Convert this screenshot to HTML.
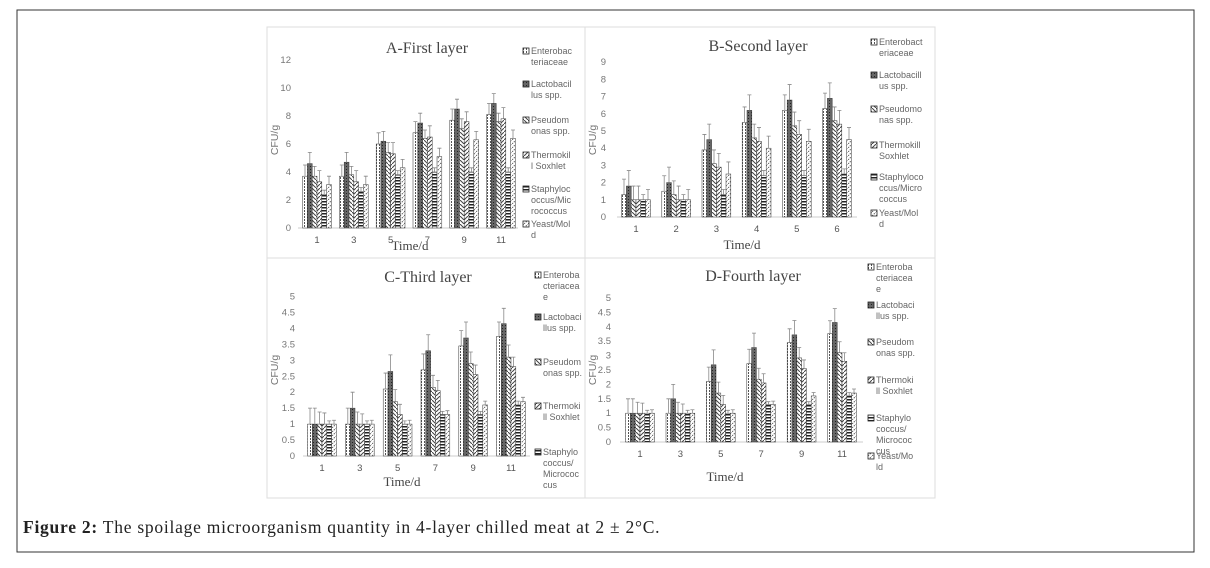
<!DOCTYPE html>
<html><head><meta charset="utf-8"><style>
body{margin:0;background:#fff;width:1210px;height:568px;overflow:hidden;font-family:"Liberation Sans",sans-serif}
svg{position:absolute;left:0;top:0}
</style></head><body>
<svg id="fig" width="1210" height="568" xmlns="http://www.w3.org/2000/svg">
<defs>
<pattern id="p0" width="3" height="3" patternUnits="userSpaceOnUse"><rect width="3" height="3" fill="#fff"/><rect x="1" width="1" height="2" fill="#555"/></pattern>
<pattern id="p1" width="3" height="3" patternUnits="userSpaceOnUse"><rect width="3" height="3" fill="#666"/><rect x="1" y="1" width="1" height="1" fill="#222"/></pattern>
<pattern id="p2" width="4" height="4" patternUnits="userSpaceOnUse"><rect width="4" height="4" fill="#fff"/><path d="M0,0L4,4" stroke="#444" stroke-width="1"/></pattern>
<pattern id="p3" width="4" height="4" patternUnits="userSpaceOnUse"><rect width="4" height="4" fill="#fff"/><path d="M4,0L0,4" stroke="#444" stroke-width="1"/></pattern>
<pattern id="p4" width="3" height="3" patternUnits="userSpaceOnUse"><rect width="3" height="3" fill="#fff"/><rect y="0" width="3" height="1.5" fill="#222"/></pattern>
<pattern id="p5" width="4" height="4" patternUnits="userSpaceOnUse"><rect width="4" height="4" fill="#fff"/><path d="M0,4L4,0" stroke="#666" stroke-width="1" stroke-dasharray="1.5 1"/></pattern>
</defs>
<rect x="17" y="10" width="1177" height="542" fill="none" stroke="#333" stroke-width="1"/>
<text x="23" y="533" font-family="'Liberation Serif',serif" font-size="17.5" letter-spacing="0.75" fill="#222"><tspan font-weight="bold">Figure 2:</tspan> The spoilage microorganism quantity in 4-layer chilled meat at 2 ± 2°C.</text>
</svg>
<script>
const catsA=["1","3","5","7","9","11"];
const catsB=["1","2","3","4","5","6"];
const catsC=["1","3","5","7","9","11"];
const catsD=["1","3","5","7","9","11"];
const valsA=[[3.7,4.6,3.7,3.3,2.4,3.1],[3.7,4.7,3.8,3.3,2.6,3.1],[6.0,6.2,5.4,5.3,3.8,4.3],[6.8,7.5,6.4,6.5,4.0,5.1],[7.7,8.5,7.1,7.6,4.0,6.3],[8.1,8.9,7.6,7.8,4.0,6.4]];
const errA=[[0.8,0.8,0.7,0.8,0.3,0.6],[0.8,0.7,0.6,0.8,0.3,0.6],[0.8,0.7,0.7,0.8,0.3,0.6],[0.8,0.7,0.6,0.8,0.3,0.6],[0.8,0.7,0.7,0.7,0.3,0.6],[0.8,0.7,0.6,0.8,0.3,0.6]];
const valsB=[[1.3,1.8,1.0,1.0,1.0,1.0],[1.5,2.0,1.3,1.0,1.0,1.0],[3.9,4.5,3.1,2.9,1.3,2.5],[5.5,6.2,4.6,4.4,2.4,4.0],[6.2,6.8,5.3,4.8,2.4,4.4],[6.3,6.9,5.6,5.4,2.5,4.5]];
const errB=[[0.9,0.9,0.8,0.8,0.3,0.6],[0.9,0.9,0.8,0.8,0.3,0.6],[0.9,0.9,0.8,0.8,0.3,0.7],[0.9,0.9,0.8,0.8,0.3,0.7],[0.9,0.9,0.8,0.8,0.3,0.7],[0.9,0.9,0.8,0.8,0.3,0.7]];
const valsC=[[1,1,1,1,1,1],[1,1.5,1,1,1,1],[2.1,2.65,1.7,1.3,1.0,1.0],[2.7,3.3,2.15,2.05,1.3,1.3],[3.45,3.7,2.9,2.55,1.3,1.6],[3.75,4.15,3.1,2.8,1.6,1.7]];
const valsD=[[1,1,1,1,1,1],[1,1.5,1,1,1,1],[2.1,2.68,1.7,1.3,1.0,1.0],[2.72,3.28,2.18,2.05,1.3,1.3],[3.45,3.72,2.92,2.55,1.3,1.6],[3.76,4.15,3.1,2.8,1.6,1.7]];
const errCD=[[0.5,0.5,0.38,0.35,0.1,0.12],[0.5,0.5,0.38,0.32,0.1,0.12],[0.5,0.52,0.38,0.32,0.1,0.12],[0.5,0.5,0.38,0.32,0.1,0.12],[0.48,0.5,0.36,0.3,0.1,0.12],[0.45,0.48,0.38,0.3,0.12,0.14]];
const ticksA=["0","2","4","6","8","10","12"];
const ticksB=["0","1","2","3","4","5","6","7","8","9"];
const ticksCD=["0","0.5","1","1.5","2","2.5","3","3.5","4","4.5","5"];
const legA=[["Enterobac","teriaceae"],["Lactobacil","lus spp."],["Pseudom","onas spp."],["Thermokil","l Soxhlet"],["Staphyloc","occus/Mic","rococcus"],["Yeast/Mol","d"]];
const legB=[["Enterobact","eriaceae"],["Lactobacill","us spp."],["Pseudomo","nas spp."],["Thermokill","Soxhlet"],["Staphyloco","ccus/Micro","coccus"],["Yeast/Mol","d"]];
const legC=[["Enteroba","cteriacea","e"],["Lactobaci","llus spp."],["Pseudom","onas spp."],["Thermoki","ll Soxhlet"],["Staphylo","coccus/","Micrococ","cus"]];
const legD=[["Enteroba","cteriacea","e"],["Lactobaci","llus spp."],["Pseudom","onas spp."],["Thermoki","ll Soxhlet"],["Staphylo","coccus/","Micrococ","cus"],["Yeast/Mo","ld"]];

const NS="http://www.w3.org/2000/svg";
const svg=document.getElementById('fig');
function mk(tag,attrs,parent){const e=document.createElementNS(NS,tag);for(const k in attrs)e.setAttribute(k,attrs[k]);(parent||svg).appendChild(e);return e;}

const panels=[
 {id:'a',title:'A-First layer',cats:catsA,vals:valsA,err:errA,ticks:ticksA,tickStep:2,leg:legA,box:[267,27,318,231],y0:228,ppu:14,x1:317,dx:36.8,axL:298,axR:518,tx:427,ty:53,lx:523,ly:[54,87,123,158,192,227],timeY:250,timeX:410,cfuY:140,tickX:291},
 {id:'b',title:'B-Second layer',cats:catsB,vals:valsB,err:errB,ticks:ticksB,tickStep:1,leg:legB,box:[585,27,350,231],y0:217,ppu:17.2,x1:636,dx:40.2,axL:617,axR:857,tx:758,ty:51,lx:871,ly:[45,78,112,148,180,216],timeY:249,timeX:742,cfuY:140,tickX:606},
 {id:'c',title:'C-Third layer',cats:catsC,vals:valsC,err:errCD,ticks:ticksCD,tickStep:0.5,leg:legC,box:[267,258,318,240],y0:456,ppu:31.9,x1:322,dx:37.8,axL:303,axR:530,tx:428,ty:282,lx:535,ly:[278,320,365,409,455],timeY:486,timeX:402,cfuY:370,tickX:295},
 {id:'d',title:'D-Fourth layer',cats:catsD,vals:valsD,err:errCD,ticks:ticksCD,tickStep:0.5,leg:legD,box:[585,258,350,240],y0:442,ppu:28.8,x1:640,dx:40.4,axL:620,axR:863,tx:753,ty:281,lx:868,ly:[270,308,345,383,421,459],timeY:481,timeX:725,cfuY:370,tickX:611}
];
const bw=4.8;
panels.forEach(p=>{
 const g=mk('g',{});
 
 
 const box=mk('rect',{x:p.box[0],y:p.box[1],width:p.box[2],height:p.box[3],fill:'none',stroke:'#ddd','stroke-width':1},g);
 
 
 const yS=v=>p.y0-v*p.ppu;
 const xS=i=>p.x1+i*p.dx;
 const t=mk('text',{x:p.tx,y:p.ty,'text-anchor':'middle','font-family':"'Liberation Serif',serif",'font-size':16,fill:'#444'},g);
 t.textContent=p.title;
 
 
 p.ticks.forEach((tk,i)=>{
  const e=mk('text',{x:p.tickX,y:yS(i*p.tickStep)+3,'text-anchor':'end','font-size':9.5,fill:'#777'},g);
  e.textContent=tk;
  
  
 });
 const ax=mk('line',{x1:p.axL,x2:p.axR,y1:p.y0,y2:p.y0,stroke:'#ccc','stroke-width':1},g);
 
 
 p.cats.forEach((c,i)=>{
  const e=mk('text',{x:xS(i),y:p.y0+15,'text-anchor':'middle','font-size':9.5,fill:'#555'},g);
  e.textContent=c;
  
  
  p.vals[i].forEach((v,s)=>{
   const x=xS(i)-3*bw+s*bw;
   const r=mk('rect',{x:x,y:yS(v),width:bw,height:v*p.ppu,fill:'url(#p'+s+')',stroke:'#333','stroke-width':0.5},g);
   
   
   const ey=yS(v+p.err[i][s]);
   const el=mk('path',{d:`M${x+bw/2},${yS(v)}V${ey}M${x+bw/2-2},${ey}H${x+bw/2+2}`,stroke:'#888','stroke-width':0.8,fill:'none'},g);
   
   
  });
 });
 const tt=mk('text',{x:p.timeX,y:p.timeY,'text-anchor':'middle','font-family':"'Liberation Serif',serif",'font-size':13,fill:'#444'},g);
 tt.textContent='Time/d';
 
 
 const cx=p.box[0]+11;
 const cf=mk('text',{x:cx,y:p.cfuY,'text-anchor':'middle','font-size':10.5,fill:'#777',transform:`rotate(-90 ${cx} ${p.cfuY})`},g);
 cf.textContent='CFU/g';
 
 
 p.leg.forEach((lines,s)=>{
  const lg=mk('g',{},g);
  
  
  const y=p.ly[s];
  mk('rect',{x:p.lx,y:y-6,width:6,height:6,fill:'url(#p'+s+')',stroke:'#222','stroke-width':0.8},lg);
  lines.forEach((ln,k)=>{
   const e=mk('text',{x:p.lx+8,y:y+k*11,'font-size':9,fill:'#666'},lg);
   e.textContent=ln;
  });
 });
});
</script>
</body></html>
